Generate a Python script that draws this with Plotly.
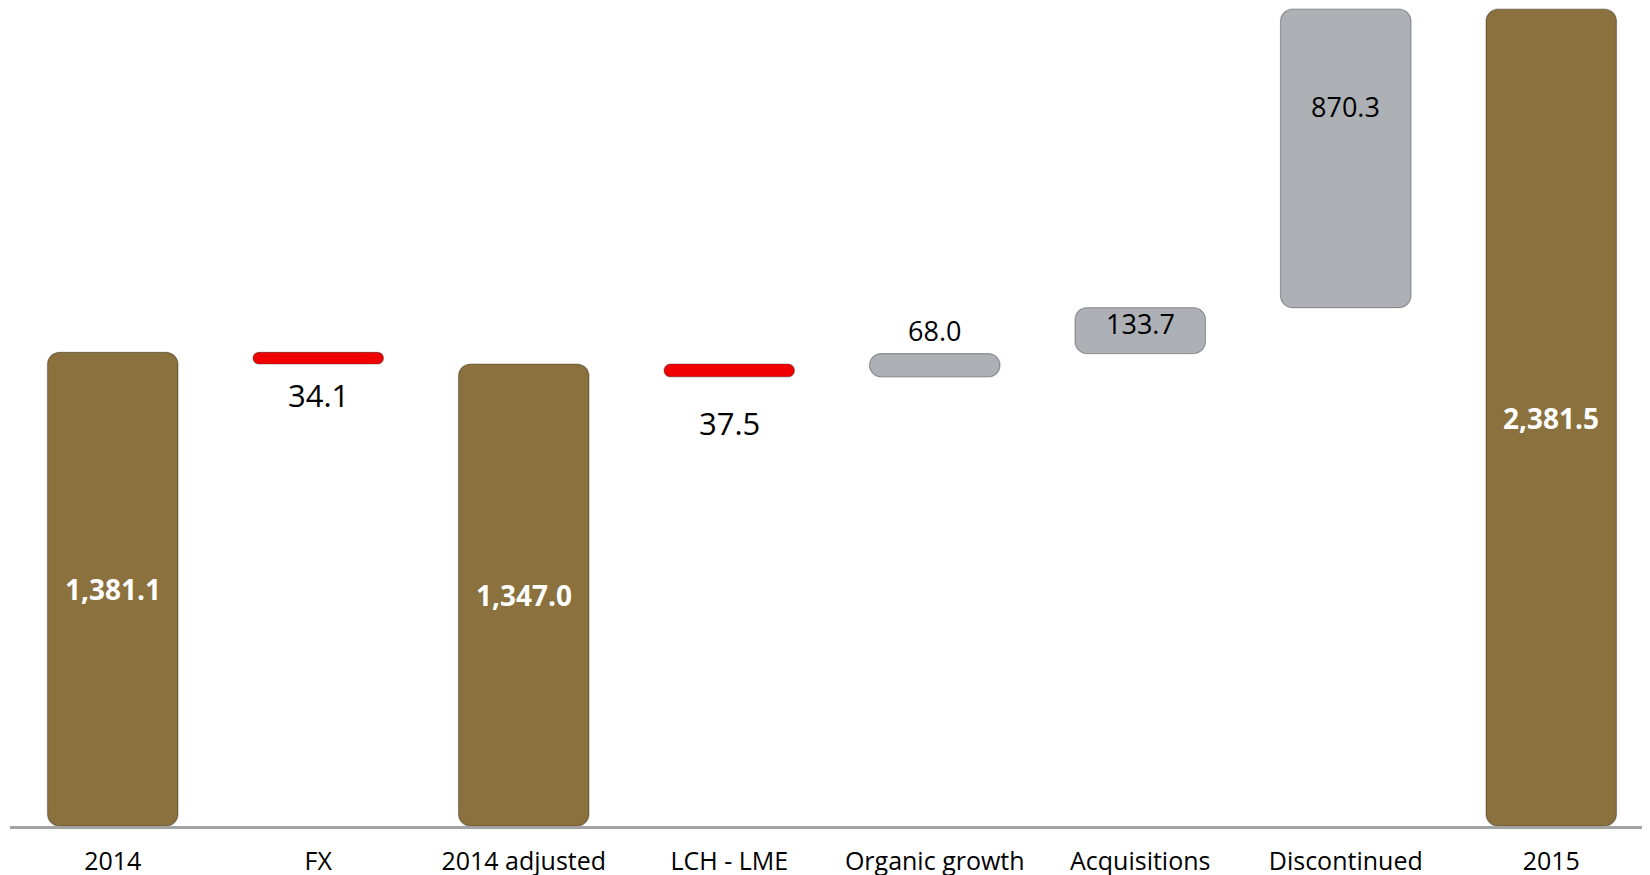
import plotly.graph_objects as go

categories = ["2014", "FX", "2014 adjusted", "LCH - LME", "Organic growth",
              "Acquisitions", "Discontinued", "2015"]
values = [1381.1, -34.1, 1347.0, -37.5, 68.0, 133.7, 870.3, 2381.5]
kinds = ["total", "relative", "total", "relative", "relative", "relative",
         "relative", "total"]

GOLD = "#8a713d"
GREY = "#adb0b5"
RED = "#f00000"

# bases for the floating bars
bases, colors = [], []
running = 0.0
for v, k in zip(values, kinds):
    if k == "total":
        bases.append(0)
        running = v
        colors.append(GOLD)
    else:
        bases.append(running)
        running += v
        colors.append(RED if v < 0 else GREY)

fig = go.Figure(
    go.Bar(
        x=categories,
        y=values,
        base=bases,
        width=0.635,
        marker={"color": colors, "cornerradius": 12,
                "line": {"color": "rgba(0,0,0,0.3)", "width": 1.2}},
        hoverinfo="skip",
    )
)

font = "Open Sans, Noto Sans, sans-serif"
# annotation x uses the category index (labels like "2014" would be read as numbers)
for i, (v, k, b) in enumerate(zip(values, kinds, bases)):
    c = categories[i]
    label = f"{abs(v):,.1f}"
    if k == "total":
        fig.add_annotation(x=i, y=v / 2, text=f"<b>{label}</b>", showarrow=False,
                           font={"color": "white", "size": 28, "family": font})
    elif v < 0:
        fig.add_annotation(x=i, y=b + v, text=label, showarrow=False,
                           yanchor="top", yshift=-8 if i == 1 else -23,
                           font={"color": "black", "size": 31, "family": font})
    elif c == "Organic growth":
        fig.add_annotation(x=i, y=b + v, text=label, showarrow=False,
                           yanchor="bottom", yshift=3,
                           font={"color": "black", "size": 27, "family": font})
    elif c == "Discontinued":
        fig.add_annotation(x=i, y=b + v, text=label, showarrow=False,
                           yanchor="middle", yshift=-97,
                           font={"color": "black", "size": 27, "family": font})
    else:
        fig.add_annotation(x=i, y=b + v / 2, text=label, showarrow=False,
                           yshift=7,
                           font={"color": "black", "size": 27, "family": font})

fig.update_xaxes(
    type="category", range=[-0.5, len(categories) - 0.5],
    showline=True, linecolor="#a3a3a3", linewidth=3,
    tickfont={"size": 25, "color": "black", "family": font},
    ticks="", ticklabelstandoff=11, fixedrange=True,
)
fig.update_yaxes(visible=False, range=[0, 2385], fixedrange=True)
fig.update_layout(
    width=1650, height=875,
    margin={"l": 2, "r": 4, "t": 0, "b": 57},
    paper_bgcolor="white", plot_bgcolor="white",
    showlegend=False,
)
fig.write_html("out.html")
